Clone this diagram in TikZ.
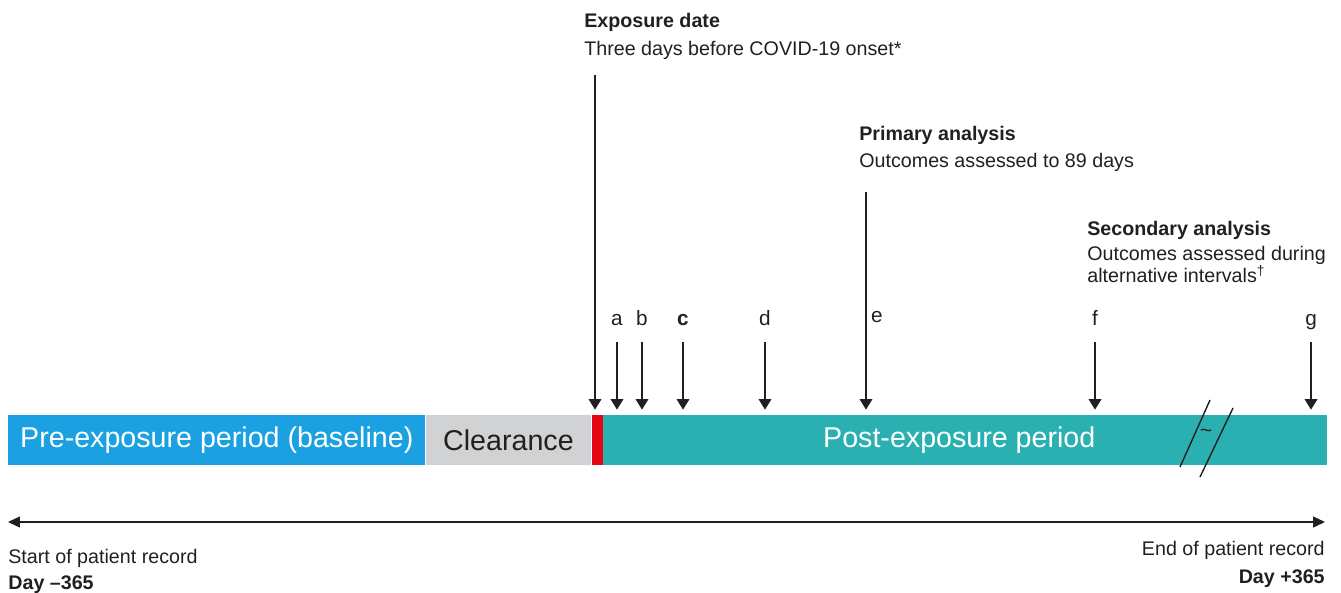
\documentclass[tikz,border=0pt]{standalone}
\usepackage{fontspec}
\setmainfont{Liberation Sans}
\usetikzlibrary{arrows.meta, calc}
\definecolor{prebl}{RGB}{27,161,226}
\definecolor{clrgray}{RGB}{209,210,212}
\definecolor{expred}{RGB}{227,6,19}
\definecolor{postteal}{RGB}{43,176,178}
\definecolor{txtgray}{RGB}{35,31,32}
\tikzstyle{barpart} = [
    rectangle,
    anchor=west,
    minimum height=1cm,
    inner sep=0pt,
    text=white,
    font=\fontsize{16.3}{19}\selectfont
]
\tikzstyle{annot} = [
    anchor=north west,
    inner sep=0pt,
    align=left,
    text=txtgray,
    font=\fontsize{11.2}{12.6}\selectfont
]
\tikzstyle{letter} = [
    anchor=base,
    inner sep=0pt,
    text depth=0pt,
    text=txtgray,
    font=\fontsize{11.8}{14}\selectfont
]
\tikzstyle{arrow} = [-{Triangle[length=0.21cm,width=0.25cm]}, line width=1pt, draw=txtgray, shorten >=0.1cm]
\tikzstyle{recarrow} = [{Triangle[length=0.24cm,width=0.22cm]}-{Triangle[length=0.24cm,width=0.22cm]}, line width=0.8pt, draw=txtgray]
\tikzstyle{breakline} = [line width=0.8pt, draw=txtgray]

\begin{document}
\begin{tikzpicture}[x=0.02cm, y=-0.02cm]
    \useasboundingbox (0,0) rectangle (1341,592);

    % Timeline bar
    \node (pre) [barpart, fill=prebl, minimum width=8.34cm] at (8,440) {Pre-exposure period (baseline)};
    \node (clear) [barpart, fill=clrgray, text=txtgray, minimum width=3.3cm] at (pre.east) {Clearance};
    \node (expo) [barpart, fill=expred, minimum width=0.22cm] at (clear.east) {};
    \node (post) [barpart, fill=postteal, minimum width=14.48cm] at (expo.east) {Post-exposure period\kern0.24cm};

    % Break marks
    \draw [breakline] (1180,467) -- (1210,400);
    \draw [breakline] (1200,477) -- (1233,408);
    \node (tilde) [text=txtgray, font=\fontsize{12}{14}\selectfont] at (1206,433) {\textasciitilde};

    % Annotations
    \node (expdate) [annot] at (584,13) {\textbf{Exposure date}\\[3.3pt] Three days before COVID-19 onset*};
    \node (primary) [annot] at (859,126) {\textbf{Primary analysis}\\[2.7pt] Outcomes assessed to 89 days};
    \node (secondary) [annot] at (1087,221) {\textbf{Secondary analysis}\\[1.6pt] Outcomes assessed during\\ alternative intervals\textsuperscript{\textdagger}};

    % Exposure and primary arrows
    \coordinate (expstart) at (595,75);
    \coordinate (primstart) at (866,192);
    \draw [arrow] (expstart) -- (expstart |- expo.north);
    \node (le) [letter] at (877,322) {e};
    \draw [arrow] (primstart) -- (primstart |- post.north);

    % Lettered time points
    \foreach \n/\x/\t in {a/617/a, b/642/b, c/683/\textbf{c}, d/765/d, f/1095/f, g/1311/g} {
        \node (l\n) [letter] at (\x,325) {\t};
        \draw [arrow] (l\n.south) ++(0,17) -- (l\n.south |- post.north);
    }

    % Patient record
    \coordinate (recstart) at (8,522);
    \coordinate (recend) at (1325,522);
    \draw [recarrow] (recstart) -- (recend);
    \node (startrec) [annot, anchor=base west] at (8,563) {Start of patient record};
    \node (dayminus) [annot, anchor=base west] at (8,589) {\textbf{Day –365}};
    \node (endrec) [annot, anchor=base east] at (1325,555) {End of patient record};
    \node (dayplus) [annot, anchor=base east] at (1325,583) {\textbf{Day +365}};
\end{tikzpicture}
\end{document}
